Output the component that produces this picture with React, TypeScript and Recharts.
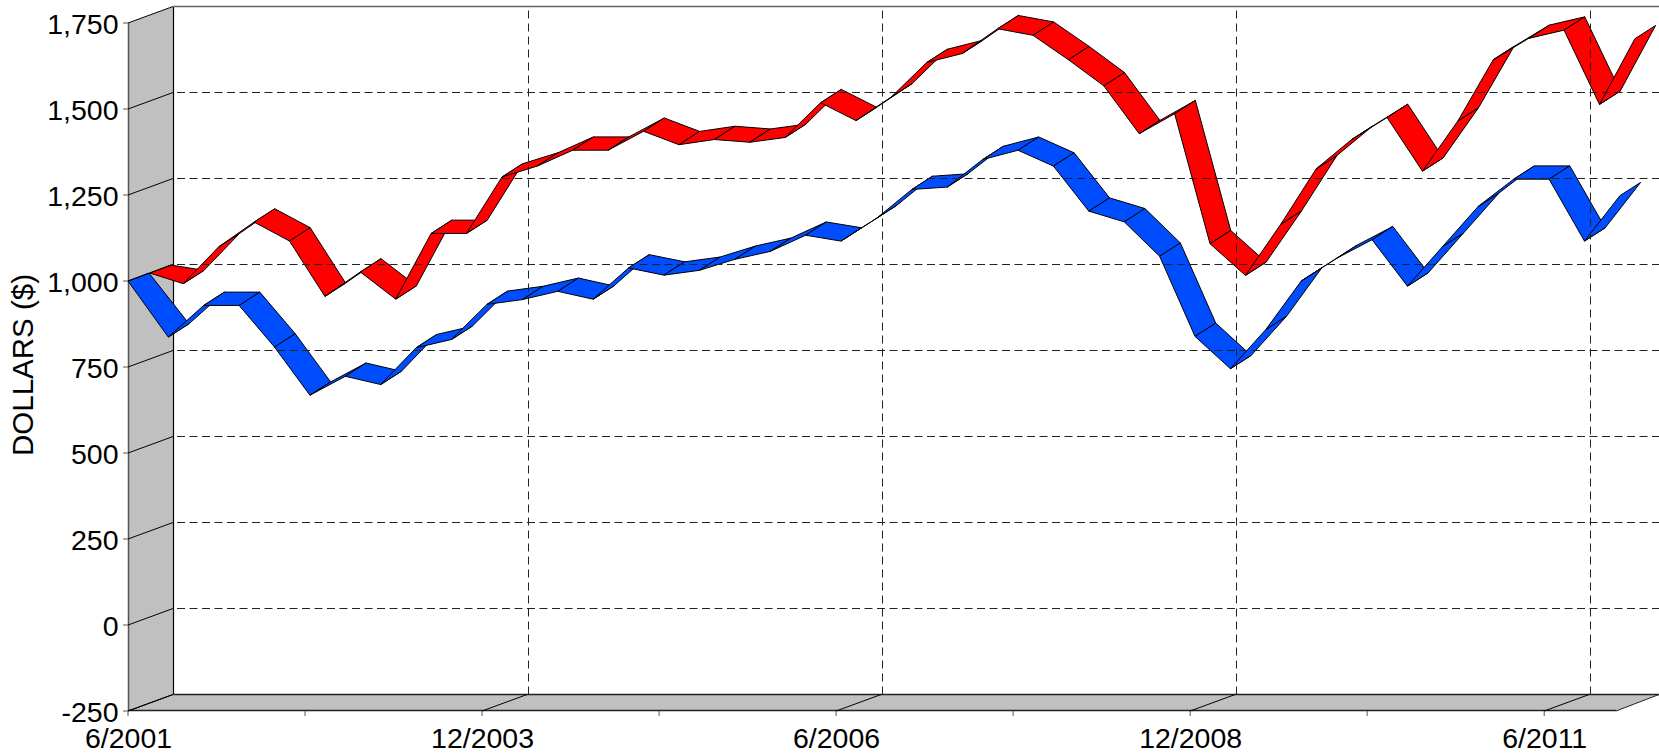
import { LineChart, Line, XAxis, YAxis } from "recharts";

const quarters = [
  "6/2001", "9/2001", "12/2001", "3/2002", "6/2002", "9/2002", "12/2002", "3/2003", "6/2003", "9/2003", "12/2003",
  "3/2004", "6/2004", "9/2004", "12/2004", "3/2005", "6/2005", "9/2005", "12/2005", "3/2006", "6/2006",
  "9/2006", "12/2006", "3/2007", "6/2007", "9/2007", "12/2007", "3/2008", "6/2008", "9/2008", "12/2008",
  "3/2009", "6/2009", "9/2009", "12/2009", "3/2010", "6/2010", "9/2010", "12/2010", "3/2011", "6/2011",
  "9/2011", "12/2011",
];
const blueValues = [
  1000, 837, 929, 929, 808, 668, 723, 699, 806, 830, 932, 946, 970, 947, 1038, 1017, 1031, 1063, 1086, 1133, 1116,
  1182, 1266, 1273, 1353, 1380, 1334, 1203, 1172, 1072, 839, 745, 859, 1000, 1066, 1120, 985, 1101, 1217, 1296, 1296,
  1116, 1248,
];
const redValues = [
  1000, 969, 1076, 1148, 1093, 932, 1003, 924, 1115, 1115, 1279, 1311, 1357, 1357, 1412, 1373, 1388, 1380, 1394, 1495,
  1443, 1512, 1612, 1638, 1710, 1691, 1620, 1544, 1405, 1463, 1085, 993, 1142, 1303, 1388, 1452, 1296, 1442, 1620,
  1682, 1706, 1490, 1681,
];
const yTicks = [-250, 0, 250, 500, 750, 1000, 1250, 1500, 1750];
const xTicks = ["6/2001", "9/2002", "12/2003", "3/2005", "6/2006", "9/2007", "12/2008", "3/2010", "6/2011"];
const xLabels = ["6/2001", "12/2003", "6/2006", "12/2008", "6/2011"];

const data = quarters.map((q, i) => ({ q, blue: blueValues[i], red: redValues[i] }));

const W = 1659;
const H = 755;
const LEFT = 128;
const TOP = 23;
const BOTTOM = 711;
const FLOOR_END = 1616;
const WALL_DX = 45;
const WALL_DY = -16.5;
const FONT = "'Liberation Sans', Arial, sans-serif";
const FONT_SIZE = 28.5;

// the walls sit behind everything else
function Backdrop() {
  const backX = LEFT + WALL_DX + 0.5;
  const backTop = TOP + WALL_DY;
  const backBottom = BOTTOM + WALL_DY;
  return (
    <g>
      <polygon
        points={`${LEFT},${TOP} ${backX},${backTop} ${backX},${backBottom} ${LEFT},${BOTTOM}`}
        fill="#c0c0c0"
      />
      <polygon
        points={`${LEFT},${BOTTOM} ${backX},${backBottom} ${W},${backBottom} ${FLOOR_END},${BOTTOM}`}
        fill="#c0c0c0"
      />
      <line x1={LEFT + 0.5} y1={TOP} x2={LEFT + 0.5} y2={BOTTOM} stroke="#555" strokeWidth={1.5} />
      <line x1={LEFT} y1={BOTTOM - 0.5} x2={FLOOR_END} y2={BOTTOM - 0.5} stroke="#222" strokeWidth={1.5} />
      <line x1={backX} y1={backTop} x2={backX} y2={backBottom} stroke="#000" strokeWidth={1.2} />
      <line x1={backX} y1={backBottom} x2={W} y2={backBottom} stroke="#222" strokeWidth={1.5} />
      <line x1={backX} y1={backTop} x2={W} y2={backTop} stroke="#666" strokeWidth={1.5} />
      <line x1={FLOOR_END} y1={BOTTOM} x2={W} y2={backBottom} stroke="#222" />
    </g>
  );
}

function YTick({ y, payload }: any) {
  const value = payload.value;
  const edge = value === -250 || value === 1750;
  return (
    <g>
      <line x1={LEFT - 5} y1={y} x2={LEFT} y2={y} stroke="#555" />
      <line x1={LEFT} y1={y} x2={LEFT + WALL_DX} y2={y + WALL_DY} stroke="#000" />
      {!edge && (
        <line
          x1={LEFT + WALL_DX + 4}
          y1={y + WALL_DY}
          x2={W}
          y2={y + WALL_DY}
          stroke="#222"
          strokeDasharray="8 4.5"
        />
      )}
      <text x={LEFT - 9.5} y={y + 10.7} textAnchor="end" fontSize={FONT_SIZE} fontFamily={FONT} fill="#000">
        {value.toLocaleString("en-US")}
      </text>
    </g>
  );
}

function XTick({ x, payload }: any) {
  const major = xLabels.includes(payload.value);
  const gridX = Math.round(x + 46) + 0.5;
  return (
    <g>
      <line x1={x} y1={BOTTOM} x2={x} y2={BOTTOM + 5} stroke="#555" />
      {major && <line x1={x} y1={BOTTOM} x2={x + WALL_DX} y2={BOTTOM + WALL_DY} stroke="#000" />}
      {major && x > LEFT && (
        <line
          x1={gridX}
          y1={TOP + WALL_DY + 4}
          x2={gridX}
          y2={BOTTOM + WALL_DY}
          stroke="#222"
          strokeDasharray="8 5"
        />
      )}
      {major && (
        <text x={x + 0.5} y={BOTTOM + 37} textAnchor="middle" fontSize={FONT_SIZE} fontFamily={FONT} fill="#000">
          {payload.value}
        </text>
      )}
    </g>
  );
}

// each point draws the ribbon panel from itself to the next point
function ribbon(fill: string, firstShift: number, shift: number, lift: number) {
  return function RibbonPanel({ points, index }: any) {
    if (index >= points.length - 1) return <g key={index} />;
    const front = (i: number) => ({
      x: points[i].x + (i === 0 ? firstShift : shift),
      y: points[i].y - lift,
    });
    const back = (i: number) => {
      const p = front(i);
      return i === 0 ? { x: p.x + 21, y: p.y - 8 } : { x: p.x + 20.7, y: p.y - 13.3 };
    };
    const corners = [front(index), front(index + 1), back(index + 1), back(index)];
    return (
      <polygon
        key={index}
        points={corners.map((c) => `${c.x},${c.y}`).join(" ")}
        fill={fill}
        stroke="#000"
        strokeWidth={1}
        strokeLinejoin="round"
      />
    );
  };
}

export default function App() {
  return (
    <div style={{ position: "absolute", left: 0, top: 0, width: W, height: H, background: "#fff" }}>
      <LineChart width={W} height={H} data={data} margin={{ top: TOP, right: 44, bottom: 0, left: 0 }}>
        <Backdrop />
        <XAxis
          dataKey="q"
          scale="point"
          ticks={xTicks}
          interval={0}
          height={H - BOTTOM}
          axisLine={false}
          tickLine={false}
          tick={<XTick />}
        />
        <YAxis
          domain={[-250, 1750]}
          ticks={yTicks}
          width={LEFT}
          axisLine={false}
          tickLine={false}
          tick={<YTick />}
          label={{
            value: "DOLLARS ($)",
            angle: -90,
            position: "insideLeft",
            fontSize: 29.5,
            fontFamily: FONT,
            fill: "#000",
            dx: 18,
            dy: 89,
          }}
        />
        <Line dataKey="red" stroke="none" isAnimationActive={false} dot={ribbon("#ff0000", 21.7, 19.9, 8)} />
        <Line dataKey="blue" stroke="none" isAnimationActive={false} dot={ribbon("#004dff", 0, 4.9, 0)} />
      </LineChart>
    </div>
  );
}
